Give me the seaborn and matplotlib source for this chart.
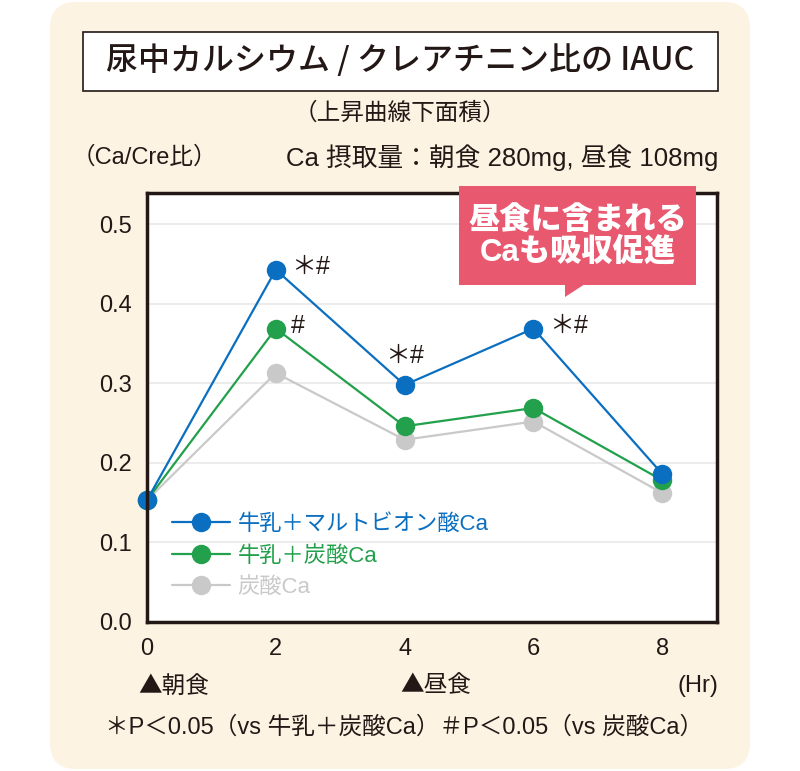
import matplotlib
matplotlib.use("Agg")
import matplotlib.pyplot as plt
from matplotlib.patches import FancyBboxPatch, Rectangle, Polygon
from matplotlib.lines import Line2D
from matplotlib.transforms import Affine2D
import seaborn as sns
import pandas as pd

''' Données '''
hours = [0, 2, 4, 6, 8]
maltobionate = [0.153, 0.443, 0.298, 0.369, 0.186]
milk_carbonate = [0.153, 0.369, 0.246, 0.269, 0.178]
carbonate = [0.153, 0.313, 0.229, 0.252, 0.162]
series_names = ["牛乳＋マルトビオン酸Ca", "牛乳＋炭酸Ca", "炭酸Ca"]
series_colors = ["#0a6fc0", "#22a04b", "#c9c9c9"]
yticks = [0.0, 0.1, 0.2, 0.3, 0.4, 0.5]

df = pd.concat([
    pd.DataFrame({"Hr": hours, "value": maltobionate, "group": series_names[0]}),
    pd.DataFrame({"Hr": hours, "value": milk_carbonate, "group": series_names[1]}),
    pd.DataFrame({"Hr": hours, "value": carbonate, "group": series_names[2]}),
])

''' Style '''
sns.set_style("white")
plt.rcParams["font.family"] = ["Liberation Sans", "Noto Sans CJK JP", "DejaVu Sans"]
cjk = ["Noto Sans CJK JP", "DejaVu Sans"]
dark = "#231815"
cream = "#fdf3e3"

W, H = 800, 771
fig = plt.figure(figsize=(W / 100, H / 100), dpi=100, facecolor="white")
px = Affine2D().scale(1 / W, -1 / H).translate(0, 1) + fig.transFigure

# fond crème arrondi
fig.patches.append(FancyBboxPatch((50, 2), 700, 767, boxstyle="round,pad=0,rounding_size=26",
                                  transform=px, facecolor=cream, edgecolor="none", zorder=-10))

''' Graphique '''
ax = fig.add_axes([147 / W, 1 - 621.7 / H, 570 / W, 429 / H])
ax.set_zorder(1)
ax.set_facecolor("white")
palette = dict(zip(series_names, series_colors))
sns.lineplot(data=df, x="Hr", y="value", hue="group", hue_order=series_names[::-1],
             palette=palette, marker="o", markersize=14, markeredgewidth=0,
             linewidth=1.6, legend=False, ax=ax, clip_on=False)

ax.set_xlim(0, 8.85)
ax.set_ylim(0, 0.54)
ax.set_xticks(hours)
ax.set_yticks(yticks)
ax.set_yticklabels([f"{v:.1f}" for v in yticks])
ax.set_xlabel("")
ax.set_ylabel("")
ax.tick_params(length=0, labelsize=17, colors=dark)
ax.tick_params(axis="x", pad=12)
ax.tick_params(axis="y", pad=11)
ax.yaxis.grid(True, color="#ececec", linewidth=1.5)
ax.set_axisbelow(True)
for s in ax.spines.values():
    s.set_color(dark)
    s.set_linewidth(2.5)

# légende
handles = [Line2D([], [], color=c, marker="o", markersize=14, markeredgewidth=0, linewidth=1.6)
           for c in series_colors]
leg = ax.legend(handles, series_names, loc="upper left", bbox_to_anchor=(172 / W, 1 - 514 / H),
                bbox_transform=fig.transFigure, frameon=False, fontsize=16, handlelength=2.6,
                handletextpad=0.35, labelspacing=0.47, borderpad=0, borderaxespad=0)
for txt, c in zip(leg.get_texts(), series_colors):
    txt.set_color(c)

# marques de significativité
sig = [(2, maltobionate[1], "＊#"), (2, milk_carbonate[1], "#"), (6, maltobionate[3], "＊#")]
for x, y, lab in sig:
    ax.annotate(lab, (x, y), xytext=(11, 2), textcoords="offset points", fontsize=18,
                color=dark, va="center", ha="left")
ax.annotate("＊#", (4, maltobionate[2]), xytext=(0, 21), textcoords="offset points",
            fontsize=18, color=dark, va="center", ha="center")

''' Textes '''
fig.patches.append(Rectangle((83, 32), 635, 59, transform=px, facecolor="white",
                             edgecolor=dark, linewidth=1.2, zorder=1))
fig.text(400, 61, "尿中カルシウム / クレアチニン比の IAUC", transform=px, ha="center", va="center",
         fontsize=23, fontweight="medium", color=dark, zorder=2, family=cjk)
fig.text(400, 113, "（上昇曲線下面積）", transform=px, ha="center", va="center", fontsize=17, color=dark)
fig.text(72, 158, "（Ca/Cre比）", transform=px, ha="left", va="center", fontsize=17, color=dark)
fig.text(718, 158, "Ca 摂取量：朝食 280mg, 昼食 108mg", transform=px, ha="right", va="center",
         fontsize=18.5, color=dark)

# bulle
pink = "#e8586f"
fig.patches.append(Rectangle((459, 186), 237, 99, transform=px, facecolor=pink, edgecolor="none", zorder=5))
fig.patches.append(Polygon([(565, 284), (585, 284), (565, 297)], closed=True, transform=px,
                           facecolor=pink, edgecolor="none", zorder=5))
fig.text(578, 237, "昼食に含まれる\nCaも吸収促進", transform=px, ha="center", va="center",
         fontsize=22.5, fontweight="heavy", color="white", linespacing=1.08, zorder=6)

fig.text(138, 686, "▲朝食", transform=px, ha="left", va="center", fontsize=17, color=dark, family=cjk)
fig.text(400, 686, "▲昼食", transform=px, ha="left", va="center", fontsize=17, color=dark, family=cjk)
fig.text(718, 686, "(Hr)", transform=px, ha="right", va="center", fontsize=17, color=dark)
fig.text(404, 727, "＊P＜0.05（vs 牛乳＋炭酸Ca）＃P＜0.05（vs 炭酸Ca）", transform=px,
         ha="center", va="center", fontsize=17, color=dark)

fig.savefig("out.png", dpi=100, facecolor="white")
